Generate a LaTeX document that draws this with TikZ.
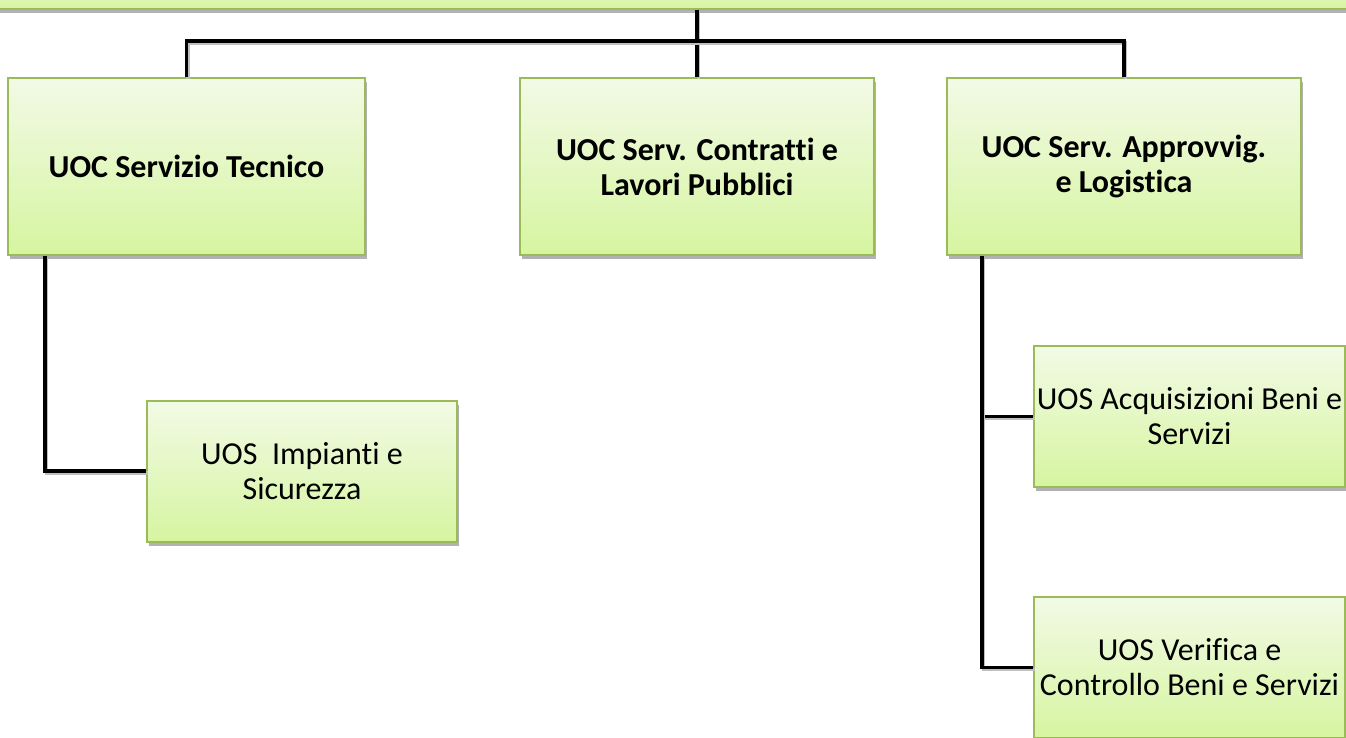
\documentclass[tikz,border=0pt]{standalone}
\usepackage{fontspec}
\setmainfont[Ligatures=NoCommon]{Carlito}
\usetikzlibrary{shadows}
\definecolor{boxline}{HTML}{9BBB59}
\definecolor{boxtop}{HTML}{F2FAE6}
\definecolor{boxbot}{HTML}{D6F5A0}
\tikzstyle{box}=[rectangle, draw=boxline, line width=2pt, top color=boxtop, bottom color=boxbot, inner sep=0pt, align=center, drop shadow={shadow xshift=2pt, shadow yshift=-4pt, opacity=0.3, fill=black}]
\tikzstyle{uoc}=[box, font=\fontsize{32}{35}\selectfont\bfseries, minimum width=354pt, minimum height=177pt]
\tikzstyle{uos}=[box, font=\fontsize{32}{35}\selectfont, minimum width=311pt, minimum height=141pt]
\tikzstyle{link}=[draw, line width=3.5pt, preaction={draw=black!25, line width=3.5pt, transform canvas={shift={(1.5pt,-2pt)}}}]
\newcommand{\uoc}{\node[uoc]}
\newcommand{\uos}{\node[uos]}

\begin{document}
\begin{tikzpicture}[x=1pt, y=-1pt]
	\useasboundingbox (0,0) rectangle (1346,737);
	%% the top bar is only partly in view, so it hangs above the page
	\node[box, minimum width=1420pt, minimum height=40pt, anchor=south] (dir) at (697,10) {};
	\uoc (tec) at (186.5,166.5) [minimum width=357pt] {UOC Servizio Tecnico};
	\uoc (con) at (697,166.5) {UOC Serv. Contratti e\\Lavori Pubblici};
	\uoc (app) at (1124,166.5) {UOC Serv. Approvvig.\\e Logistica};
	\uos (imp) at (302,471) [minimum width=310pt] {UOS\ \ Impianti e\\Sicurezza};
	\uos (acq) at (1189.5,416.5) {UOS Acquisizioni Beni e\\Servizi};
	\uos (ver) at (1189.5,667.5) {UOS Verifica e\\Controllo Beni e Servizi};
	\coordinate (bus) at (697,41);
	% connectors, all with right angles
	\draw[link] (dir.south) -- (con.north);
	\draw[link] (tec.north) |- (bus) -| (app.north);
	\draw[link] ([xshift=-141.5pt]tec.south) |- (imp.west);
	\draw[link] ([xshift=-142pt]app.south) |- (acq.west);
	\draw[link] ([xshift=-142pt]app.south) |- (ver.west);
\end{tikzpicture}
\end{document}
